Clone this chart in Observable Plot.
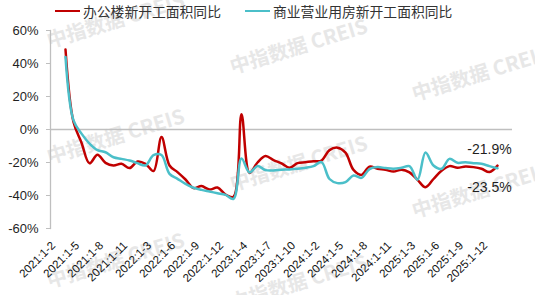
<!DOCTYPE html>
<html><head><meta charset="utf-8">
<script src="https://cdn.jsdelivr.net/npm/d3@7"></script>
<script src="https://cdn.jsdelivr.net/npm/@observablehq/plot@0.6"></script>
<style>
html,body{margin:0;padding:0;background:#fff;}
body{width:535px;height:295px;overflow:hidden;position:relative;font-family:"Liberation Sans",Arial,sans-serif;}
#wm{position:absolute;left:0;top:0;width:535px;height:295px;z-index:0;pointer-events:none;overflow:hidden;}
.wm{position:absolute;white-space:nowrap;font-family:"Noto Sans CJK SC","Noto Sans",sans-serif;font-weight:700;font-size:20px;line-height:20px;color:#e7e7e7;transform-origin:left bottom;transform:rotate(-17deg);}
#legend{position:relative;height:20px;z-index:2;}
.item{position:absolute;top:2px;display:flex;align-items:center;font-family:"Noto Sans CJK SC",sans-serif;font-size:13.8px;line-height:18px;color:#333;}
.sw{width:25px;height:0;border-top:2.5px solid;margin-right:3px;}
#chart{position:relative;z-index:1;}
</style></head><body>
<div id="wm"></div>
<div id="legend"></div>
<div id="chart"></div>
<script>
const periods = [
 "2021:1-2","2021:1-3","2021:1-4","2021:1-5","2021:1-6","2021:1-7","2021:1-8","2021:1-9","2021:1-10","2021:1-11","2021:1-12",
 "2022:1-2","2022:1-3","2022:1-4","2022:1-5","2022:1-6","2022:1-7","2022:1-8","2022:1-9","2022:1-10","2022:1-11","2022:1-12",
 "2023:1-2","2023:1-3","2023:1-4","2023:1-5","2023:1-6","2023:1-7","2023:1-8","2023:1-9","2023:1-10","2023:1-11","2023:1-12",
 "2024:1-2","2024:1-3","2024:1-4","2024:1-5","2024:1-6","2024:1-7","2024:1-8","2024:1-9","2024:1-10","2024:1-11","2024:1-12",
 "2025:1-2","2025:1-3","2025:1-4","2025:1-5","2025:1-6","2025:1-7","2025:1-8","2025:1-9","2025:1-10","2025:1-11","2025:1-12"
];
const office = [
 48.5, 4.5, -8, -20.5, -15.3, -20.2, -21.8, -20.8, -23.4, -19.4, -20.8,
 -25.2, -4.6, -21.8, -25.8, -30.3, -35.5, -34.3, -36.4, -35.2, -39.4, -40.8,
 9.3, -26.3, -20, -16, -18.5, -20.5, -23.2, -20.4, -19.8, -19.2, -18.8,
 -12.5, -11, -14, -24.5, -27.5, -22.5, -23.8, -24.4, -25.5, -24.4, -26,
 -30.5, -35, -30, -25, -22.2, -23.2, -22.4, -22.8, -23.8, -25.8, -21.9
];
const commercial = [
 44, 5.5, -2.5, -8.5, -12.5, -13.8, -16.8, -17.8, -18.8, -20.4, -21.8,
 -15.5, -15.5, -26.9, -29.9, -32.9, -35.3, -36.6, -37.6, -38.6, -39.6, -42,
 -17.6, -26, -22.2, -24.6, -24.8, -24.4, -24.2, -23.8, -23.2, -22.2, -19.8,
 -30, -32.5, -31.9, -27.9, -29.3, -24, -22.8, -23.4, -23.8, -23.2, -22.2,
 -30.5, -14, -21.8, -23.8, -17.8, -20.2, -19.8, -20.4, -20.8, -22.2, -23.5
];
const xTickLabels = [
 "2021:1-2","2021:1-5","2021:1-8","2021:1-11","2022:1-3","2022:1-6","2022:1-9","2022:1-12",
 "2023:1-4","2023:1-7","2023:1-10","2024:1-2","2024:1-5","2024:1-8","2024:1-11",
 "2025:1-3","2025:1-6","2025:1-9","2025:1-12"
];
const yTicks = [60, 40, 20, 0, -20, -40, -60];
const seriesNames = ["办公楼新开工面积同比", "商业营业用房新开工面积同比"];
const seriesColors = ["#c00000", "#4bbfc9"];
const watermarkText = "中指数据 CREIS";

// watermark tiles (decorative background)
const wmPos = [[50,50],[233,76],[415,103],[50,166],[233,193],[415,220],[50,290],[233,312]];
const wm = document.getElementById("wm");
for (const [x, y] of wmPos) {
  const d = document.createElement("div");
  d.className = "wm";
  d.textContent = watermarkText;
  d.style.left = x + "px";
  d.style.top = (y - 20) + "px";
  wm.appendChild(d);
}

// legend
const legend = document.getElementById("legend");
const legendLeft = [55, 245];
seriesNames.forEach((name, i) => {
  const it = document.createElement("div");
  it.className = "item";
  it.style.left = legendLeft[i] + "px";
  const sw = document.createElement("span");
  sw.className = "sw";
  sw.style.borderColor = seriesColors[i];
  const tx = document.createElement("span");
  tx.textContent = name;
  it.appendChild(sw); it.appendChild(tx);
  legend.appendChild(it);
});

const rows = [];
periods.forEach((p, i) => {
  rows.push({period: p, value: office[i], series: seriesNames[0]});
  rows.push({period: p, value: commercial[i], series: seriesNames[1]});
});
const last = periods.length - 1;
const endsAbove = [{period: periods[last], value: office[last]}];
const endsBelow = [{period: periods[last], value: commercial[last]}];

const chart = Plot.plot({
  width: 535,
  height: 275,
  marginLeft: 50,
  marginRight: 23,
  marginTop: 10,
  marginBottom: 67,
  style: {fontFamily: "'Liberation Sans', Arial, sans-serif", fontSize: "13px", color: "#1f1f1f", background: "transparent", overflow: "visible"},
  x: {type: "point", domain: periods, padding: 0.5, label: null},
  y: {domain: [-60, 60], label: null},
  color: {domain: seriesNames, range: seriesColors},
  marks: [
    Plot.frame({anchor: "left", stroke: "#bfbfbf", strokeWidth: 1.3}),
    Plot.ruleY([0], {stroke: "#bfbfbf", strokeWidth: 1.5}),
    Plot.axisY({ticks: yTicks, tickFormat: d => d + "%", tickSize: 4, tickPadding: 8, stroke: "#bfbfbf", fontSize: 13, label: null}),
    Plot.axisX({ticks: xTickLabels, tickRotate: -45, tickSize: 0, tickPadding: 10, dx: -12, dy: 5, fontSize: 11.5, fill: "#111", label: null}),
    Plot.line(rows, {x: "period", y: "value", z: "series", stroke: "series", curve: "catmull-rom", strokeWidth: 2.5}),
    Plot.text(endsAbove, {x: "period", y: "value", text: d => d.value.toFixed(1) + "%", dx: -8, dy: -16, fontSize: 14, fill: "#1f1f1f"}),
    Plot.text(endsBelow, {x: "period", y: "value", text: d => d.value.toFixed(1) + "%", dx: -8, dy: 19, fontSize: 14, fill: "#1f1f1f"})
  ]
});
document.getElementById("chart").appendChild(chart);
</script>
</body></html>
